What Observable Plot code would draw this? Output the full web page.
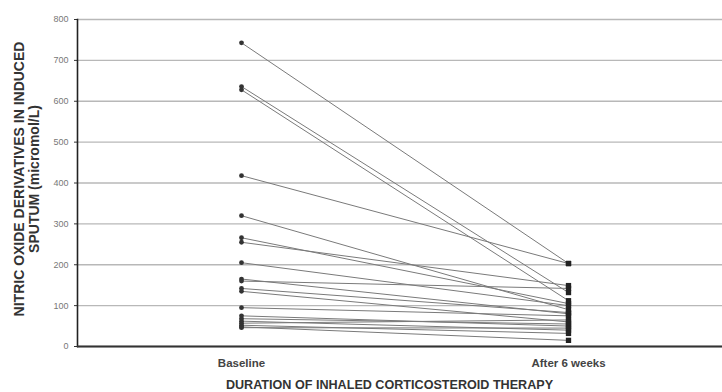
<!DOCTYPE html>
<html>
<head>
<meta charset="utf-8">
<script src="https://cdn.jsdelivr.net/npm/d3@7"></script>
<script src="https://cdn.jsdelivr.net/npm/@observablehq/plot@0.6"></script>
<style>
  html, body { margin: 0; padding: 0; background: #fff; overflow: hidden; }
  #chart svg { display: block; }
  g[aria-label="y-axis tick label"] text { fill: #777; }
  g[aria-label="x-axis tick label"] text { fill: #444; }
</style>
</head>
<body>
<div id="chart"></div>
<script>
// Data
const categories = ["Baseline", "After 6 weeks"];
const baseline = [743, 636, 628, 418, 320, 266, 255, 205, 165, 160, 142, 135, 95, 75, 68, 62, 57, 52, 48, 46];
const after6w  = [203, 132, 112, 203, 90, 105, 149, 100, 80, 142, 83, 60, 75, 50, 55, 40, 65, 32, 15, 45];
const yTicks = [0, 100, 200, 300, 400, 500, 600, 700, 800];
const yTitle = "NITRIC OXIDE DERIVATIVES IN INDUCED\nSPUTUM (micromol/L)";
const xTitle = "DURATION OF INHALED CORTICOSTEROID THERAPY";

const rows = [];
baseline.forEach((v, i) => {
  rows.push({id: i, when: categories[0], value: v});
  rows.push({id: i, when: categories[1], value: after6w[i]});
});

const chart = Plot.plot({
  width: 722,
  height: 392,
  marginLeft: 77,
  marginRight: -9,
  marginTop: 19,
  marginBottom: 46,
  style: {fontFamily: "'Liberation Sans', Arial, sans-serif", background: "#fff"},
  x: {type: "point", domain: categories, padding: 0.5},
  y: {domain: [0, 800]},
  marks: [
    Plot.gridY(yTicks, {stroke: "#b8b8b8", strokeOpacity: 1, strokeWidth: 1.3}),
    Plot.line(rows, {x: "when", y: "value", z: "id", stroke: "#7a7a7a", strokeWidth: 1}),
    Plot.dot(rows.filter(d => d.when === categories[0]), {x: "when", y: "value", r: 2.4, fill: "#333", stroke: "none"}),
    Plot.dot(rows.filter(d => d.when === categories[1]), {x: "when", y: "value", r: 3, symbol: "square", fill: "#222", stroke: "none"}),
    Plot.axisY({ticks: yTicks, tickSize: 3, tickPadding: 6, fontSize: 9, label: null, stroke: "#333"}),
    Plot.axisX({tickSize: 0, tickPadding: 12, fontSize: 11.5, fontWeight: "bold", label: null}),
    Plot.frame({anchor: "left", stroke: "#222", strokeWidth: 1.6}),
    Plot.ruleY([0], {stroke: "#333", strokeWidth: 2}),
    Plot.text([yTitle], {text: d => d, frameAnchor: "left", dx: -51, dy: -4, rotate: -90, fontSize: 14, fontWeight: "bold", fill: "#333", lineHeight: 1.08, textAnchor: "middle", lineAnchor: "middle"}),
    Plot.text([xTitle], {text: d => d, frameAnchor: "bottom", dx: -15, dy: 38, fontSize: 12.6, fontWeight: "bold", fill: "#333", lineAnchor: "middle"})
  ]
});
document.getElementById("chart").appendChild(chart);
</script>
</body>
</html>
